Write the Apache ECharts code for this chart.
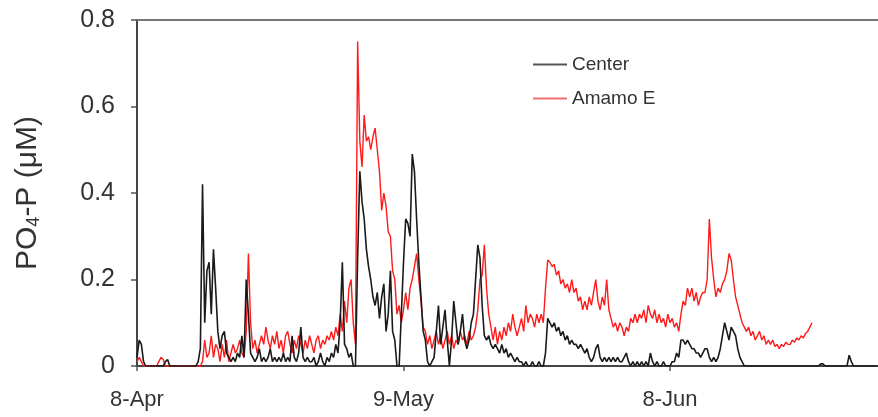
<!DOCTYPE html>
<html><head><meta charset="utf-8">
<script src="https://cdn.jsdelivr.net/npm/echarts@6/dist/echarts.min.js"></script>
<style>html,body{margin:0;padding:0;background:#fff}#c{width:878px;height:417px}</style>
</head><body><div id="c"></div>
<script>
// sampling interval of both records, in days after 8-Apr
const stepDays = 0.25;
const tickLabels = ["8-Apr", "9-May", "8-Jun"];
const tickDays = [0, 30.5, 61];
const seriesNames = ["Center", "Amamo E"];

const centerValues = [
0.02,0.06,0.05,0.01,0,0,0,0,0,0,
0,0,0,0.01,0.015,0,0,0,0,0,
0,0,0,0,0,0,0,0,0.01,0.04,
0.42,0.1,0.22,0.24,0.12,0.27,0.18,0.08,0.04,0.07,
0.08,0.03,0.02,0.01,0.02,0.01,0.03,0.02,0.07,0.02,
0.2,0.12,0.03,0.02,0.01,0.02,0.04,0.01,0.02,0.01,
0.02,0.04,0.01,0.02,0.01,0.02,0.01,0.03,0.01,0.02,
0.01,0.07,0.02,0.01,0.03,0.09,0.02,0.01,0.02,0.01,
0.01,0.02,0,0.01,0.03,0.01,0,0.02,0.01,0.03,
0.02,0.05,0.03,0.1,0.24,0.05,0.04,0.02,0.03,0,
0,0.25,0.45,0.38,0.34,0.27,0.23,0.2,0.16,0.14,
0.17,0.11,0.16,0.19,0.08,0.12,0.22,0.08,0.06,0,
0,0.12,0.24,0.34,0.33,0.3,0.49,0.45,0.34,0.24,
0.16,0.08,0.06,0.01,0,0.01,0.02,0.08,0.14,0.05,
0.09,0.13,0.06,0,0.06,0.15,0.1,0.05,0.08,0.12,
0.06,0.04,0.06,0.1,0.12,0.2,0.28,0.25,0.14,0.07,
0.06,0.07,0.05,0.04,0.05,0.04,0.03,0.05,0.03,0.04,
0.02,0.03,0.02,0.01,0.02,0.01,0.01,0,0.01,0,
0,0.01,0,0,0.01,0,0,0.03,0.11,0.1,
0.09,0.1,0.08,0.09,0.07,0.08,0.06,0.07,0.05,0.06,
0.05,0.05,0.04,0.05,0.04,0.03,0.04,0.02,0.01,0.02,
0.04,0.05,0.02,0.01,0.02,0.01,0.02,0.01,0.02,0.01,
0.02,0.01,0.01,0.02,0.03,0.01,0,0.01,0,0.01,
0,0.01,0,0.01,0,0.03,0.01,0,0.01,0,
0,0.01,0,0,0,0.01,0.01,0.03,0.02,0.06,
0.06,0.05,0.06,0.05,0.04,0.04,0.03,0.03,0.02,0.03,
0.04,0.04,0.02,0.01,0.02,0.01,0.02,0.04,0.07,0.1,
0.08,0.06,0.09,0.08,0.07,0.04,0.02,0.01,0,0,
0,0,0,0,0,0,0,0,0,0,
0,0,0,0,0,0,0,0,0,0,
0,0,0,0,0,0,0,0,0,0,
0,0,0,0.005,0.005,0,0,0,0,0,
0,0,0,0,0,0,0.025,0.01,0,0,
0,0,0,0,0,0,0,0,0,0
];

const amamoValues = [
0.01,0.02,0.01,0,0,0,0,0,0,0,
0.01,0.02,0.015,0,0,0,0,0,0,0,
0,0,0,0,0,0,0,0,0,0,
0.01,0.06,0.02,0.03,0.07,0.02,0.05,0.04,0.01,0.05,
0.02,0.06,0.01,0.03,0.05,0.03,0.04,0.06,0.03,0.02,
0.08,0.26,0.1,0.04,0.06,0.03,0.05,0.07,0.05,0.09,
0.06,0.04,0.07,0.05,0.08,0.04,0.06,0.03,0.07,0.08,
0.05,0.03,0.06,0.04,0.07,0.05,0.03,0.06,0.04,0.07,
0.05,0.03,0.06,0.07,0.04,0.06,0.05,0.07,0.06,0.08,
0.06,0.09,0.07,0.12,0.08,0.15,0.1,0.18,0.2,0.1,
0.05,0.75,0.52,0.46,0.58,0.52,0.53,0.5,0.53,0.55,
0.5,0.45,0.36,0.4,0.37,0.31,0.3,0.22,0.2,0.12,
0.14,0.1,0.13,0.17,0.13,0.18,0.2,0.23,0.26,0.2,
0.15,0.09,0.08,0.05,0.07,0.04,0.06,0.08,0.05,0.07,
0.04,0.06,0.08,0.05,0.07,0.04,0.06,0.05,0.08,0.06,
0.07,0.05,0.08,0.06,0.07,0.09,0.13,0.2,0.21,0.28,
0.18,0.12,0.09,0.06,0.09,0.05,0.08,0.06,0.09,0.07,
0.1,0.08,0.12,0.09,0.07,0.09,0.11,0.08,0.14,0.1,
0.12,0.11,0.09,0.12,0.1,0.12,0.1,0.18,0.245,0.24,
0.23,0.235,0.21,0.22,0.19,0.2,0.18,0.19,0.17,0.2,
0.17,0.18,0.15,0.16,0.13,0.15,0.13,0.16,0.14,0.17,
0.2,0.15,0.13,0.16,0.14,0.2,0.13,0.11,0.09,0.1,
0.08,0.1,0.09,0.07,0.09,0.08,0.11,0.1,0.12,0.1,
0.12,0.11,0.13,0.1,0.14,0.12,0.11,0.13,0.1,0.12,
0.1,0.11,0.09,0.12,0.1,0.11,0.09,0.1,0.08,0.12,
0.15,0.14,0.18,0.16,0.18,0.15,0.17,0.14,0.16,0.17,
0.17,0.2,0.34,0.25,0.2,0.16,0.18,0.17,0.19,0.2,
0.22,0.26,0.245,0.2,0.16,0.14,0.12,0.1,0.09,0.08,
0.09,0.07,0.08,0.06,0.07,0.08,0.06,0.07,0.05,0.06,
0.05,0.06,0.045,0.05,0.04,0.05,0.045,0.055,0.05,0.05,
0.06,0.055,0.065,0.06,0.07,0.065,0.075,0.08,0.09,0.1
];

function toPairs(vals) {
  return vals.map((v, i) => [i * stepDays, v]);
}

const FONT = '"Liberation Sans", Arial, sans-serif';
const chart = echarts.init(document.getElementById('c'), null, {renderer: 'canvas'});
chart.setOption({
  animation: false,
  backgroundColor: '#ffffff',
  textStyle: {fontFamily: FONT},
  grid: {left: 137, top: 20, right: 0, bottom: 51, containLabel: false},
  legend: {
    orient: 'vertical', left: 528, top: 50,
    itemWidth: 34, itemHeight: 2, itemGap: 15,
    icon: 'rect',
    data: seriesNames,
    textStyle: {fontFamily: FONT, fontSize: 19, color: '#333', padding: [0, 0, 0, 0]}
  },
  xAxis: [{
    type: 'value', min: 0, max: 84.8, interval: 30.5,
    axisLine: {show: true, onZero: false, lineStyle: {color: '#444', width: 2}},
    axisTick: {show: true, length: 5, lineStyle: {color: '#555', width: 1.5}},
    splitLine: {show: false},
    axisLabel: {
      margin: 23, fontSize: 22, color: '#333', fontFamily: FONT,
      showMaxLabel: false,
      formatter: function (v) {
        const k = tickDays.indexOf(v);
        return k >= 0 ? tickLabels[k] : '';
      }
    }
  }, {
    type: 'value', position: 'top', min: 0, max: 84.8,
    axisLine: {show: true, onZero: false, lineStyle: {color: '#777', width: 2}},
    axisTick: {show: false}, axisLabel: {show: false}, splitLine: {show: false}
  }],
  yAxis: {
    type: 'value', min: 0, max: 0.8, interval: 0.2,
    axisLine: {show: true, lineStyle: {color: '#444', width: 2}},
    axisTick: {show: true, length: 6, lineStyle: {color: '#555', width: 1.5}},
    splitLine: {show: false},
    axisLabel: {margin: 22, fontSize: 25, color: '#333', fontFamily: FONT},
    name: 'PO{sub|4}-P (μM)',
    nameLocation: 'middle', nameGap: 94, nameRotate: 90,
    nameTextStyle: {
      fontSize: 30, color: '#333', fontFamily: FONT,
      rich: {sub: {fontSize: 18, fontFamily: FONT, color: '#333', verticalAlign: 'bottom', padding: [13, 0, 0, 0]}}
    }
  },
  series: [{
    name: seriesNames[0], type: 'line', data: toPairs(centerValues),
    showSymbol: false, symbol: 'none', z: 3,
    lineStyle: {color: '#1a1a1a', width: 1.6}, itemStyle: {color: '#555'}
  }, {
    name: seriesNames[1], type: 'line', data: toPairs(amamoValues),
    showSymbol: false, symbol: 'none', z: 2,
    lineStyle: {color: '#ff1a1a', width: 1.4}, itemStyle: {color: '#f07070'}
  }]
});
</script>
</body></html>
